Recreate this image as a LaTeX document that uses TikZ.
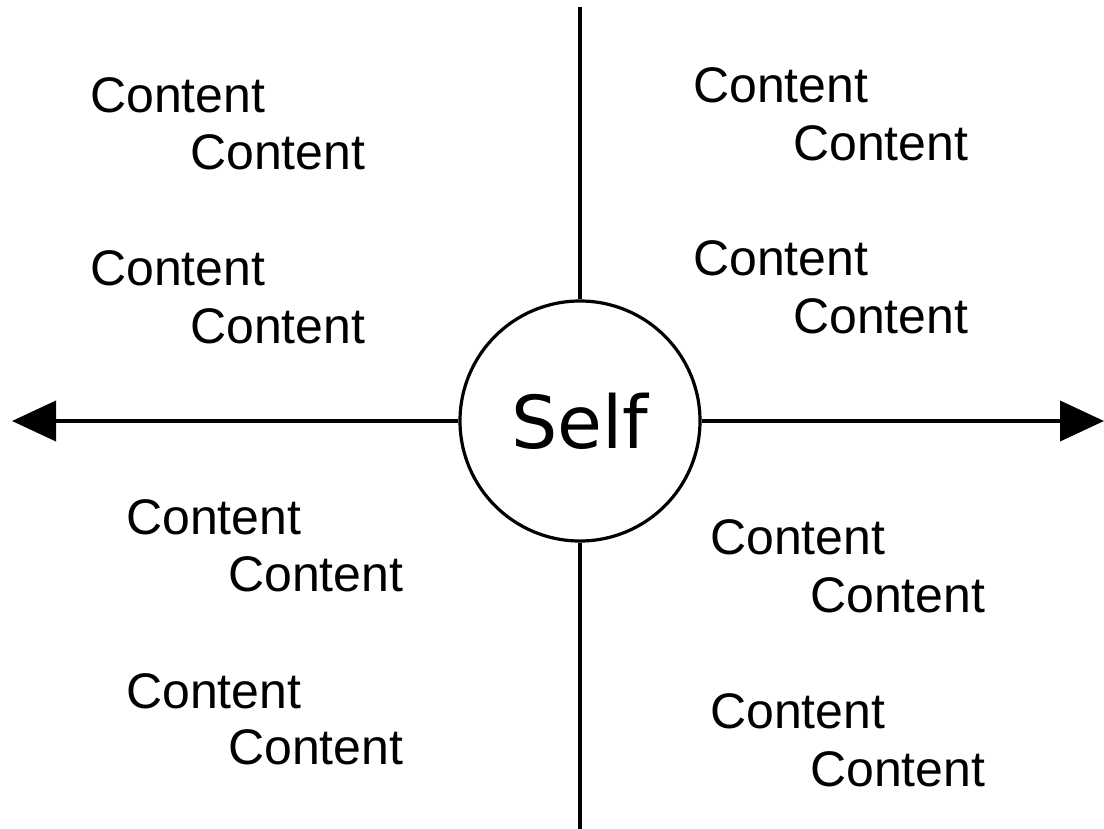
\documentclass[tikz,border=0pt]{standalone}
\usepackage{fontspec}
\setmainfont{Liberation Sans}
\newfontfamily\selffont{DejaVu Sans}
\usetikzlibrary{arrows.meta}
\begin{document}
\begin{tikzpicture}[x=1pt,y=-1pt,
  axis/.style={line width=4pt, line cap=butt},
  arr/.style={axis, -{Triangle[length=44pt,width=40pt]}},
  txt/.style={anchor=base west, inner sep=0pt, font=\fontsize{50}{50}\selectfont}]
\useasboundingbox (0,0) rectangle (1104,829);
\node[draw, circle, line width=3.2pt, minimum size=240pt, inner sep=0pt,
      font=\selffont\fontsize{73}{73}\selectfont] (self) at (580,421) {Self};
\coordinate (top) at (580,7);
\coordinate (bot) at (580,829);
\coordinate (lft) at (12,421);
\coordinate (rgt) at (1104,421);
\draw[axis] (self.north) -- (top);
\draw[axis] (self.south) -- (bot);
\draw[arr] (self.west) -- (lft);
\draw[arr] (self.east) -- (rgt);
% top-left
\node[txt] (a1) at (90,113) {Content};
\node[txt] (a2) at (190,170) {Content};
\node[txt] (a3) at (90,286) {Content};
\node[txt] (a4) at (190,344) {Content};
% top-right
\node[txt] (b1) at (693,103) {Content};
\node[txt] (b2) at (793,161) {Content};
\node[txt] (b3) at (693,276) {Content};
\node[txt] (b4) at (793,334) {Content};
% bottom-left
\node[txt] (c1) at (126,534) {Content};
\node[txt] (c2) at (228,591) {Content};
\node[txt] (c3) at (126,708) {Content};
\node[txt] (c4) at (228,764) {Content};
% bottom-right
\node[txt] (d1) at (710,554) {Content};
\node[txt] (d2) at (810,612) {Content};
\node[txt] (d3) at (710,728) {Content};
\node[txt] (d4) at (810,786) {Content};
\end{tikzpicture}
\end{document}
